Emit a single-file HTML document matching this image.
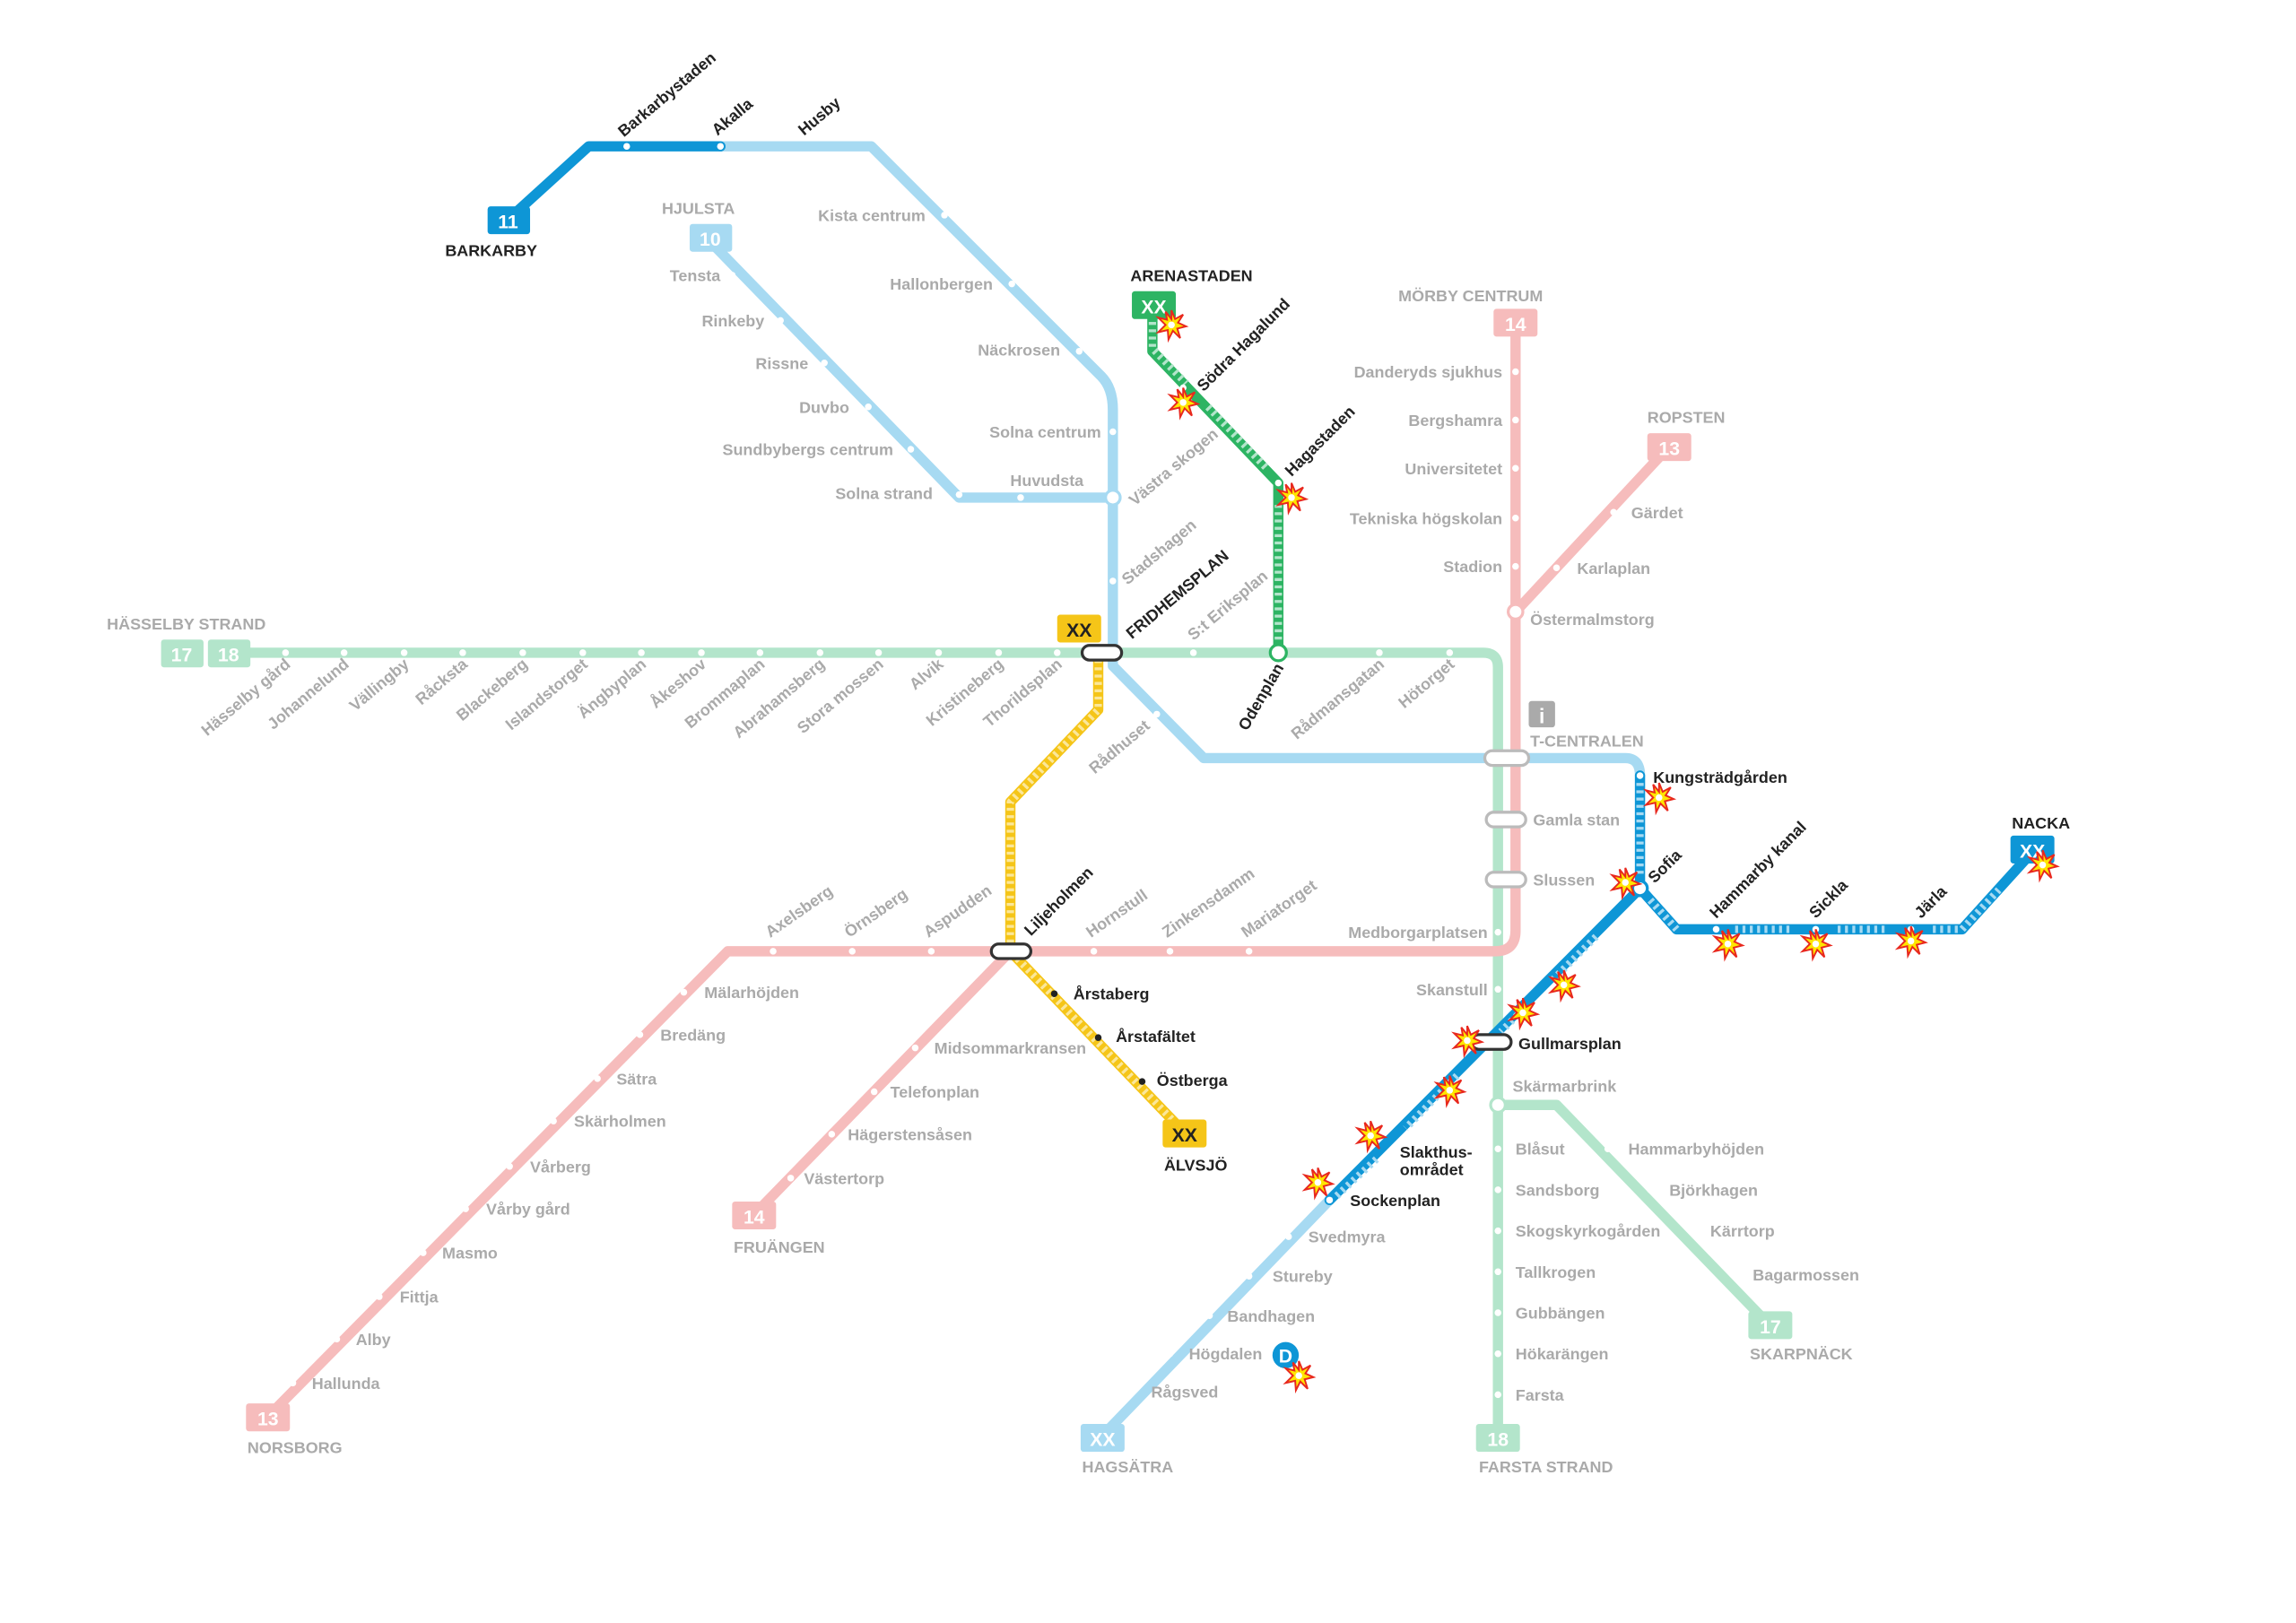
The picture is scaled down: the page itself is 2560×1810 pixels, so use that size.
<!DOCTYPE html>
<html><head><meta charset="utf-8"><style>
html,body{margin:0;padding:0;background:#fff}
svg{display:block}
text{font-family:"Liberation Sans Narrow","Liberation Sans",sans-serif;font-weight:bold;font-size:11px}
.g{fill:#aaa}.d{fill:#222}
.w{fill:#fff;font-size:13px;text-anchor:middle}
</style></head><body>
<svg width="2560" height="1810" viewBox="0 0 1568 1109" preserveAspectRatio="none" xmlns="http://www.w3.org/2000/svg">
<defs>
<g id="st"><polygon points="0,-10 2.5,-4 8,-7 4.5,-1.5 10,1 4,2.5 6,9 1,4 -2,10 -2.5,3.5 -9,5 -4,0 -9,-5 -3,-3.5 -4,-9 0,-4" fill="#ffe600" stroke="#e8281e" stroke-width="1.2"/><circle r="2.3" fill="#fff"/></g>
</defs>
<g fill="none" stroke-linejoin="round" stroke-linecap="round" stroke-width="7">
<path d="M160 446 H1013 Q1023 446 1023 456 V982" stroke="#b3e5cb"/>
<path d="M1023 755 H1063 L1208 905" stroke="#b3e5cb"/>
<path d="M1035 222 V636 Q1035 650 1021 650 H497 L183 968" stroke="#f6bcbc"/>
<path d="M690 650 L515 830" stroke="#f6bcbc"/>
<path d="M1035 418 L1140 305" stroke="#f6bcbc"/>
<path d="M492 100 H595 L752 257 Q760 265 760 280 V455 L822 518 H1110 Q1120 518 1120 530" stroke="#a7daf2"/>
<path d="M485 165 L655 340 H760" stroke="#a7daf2"/>
<path d="M908 820 L752 982" stroke="#a7daf2"/>
<path d="M347 150 L402 100 H492" stroke="#0e96d6"/>
<path d="M1120 530 V607 L908 820" stroke="#0e96d6"/>
<path d="M1120 607 L1145 635 H1340 L1388 582" stroke="#0e96d6"/>
<path d="M1120 535 V598" stroke="#a7daf2" stroke-width="5" stroke-dasharray="2 3" stroke-linecap="butt"/>
<path d="M1090 640 L1060 670 M1040 690 L1025 705 M995 735 L960 771 M940 792 L912 818 M1127 615 L1145 635 M1185 635 H1225 M1255 635 H1290 M1320 635 H1340 L1365 608" stroke="#a7daf2" stroke-width="5" stroke-dasharray="2 3" stroke-linecap="butt"/>
<path d="M787 212 V240 L873 330 V446" stroke="#2db463"/>
<path d="M787 215 V238 L810 262 M825 278 L865 320 M873 345 V440" stroke="#b3e5cb" stroke-width="5" stroke-dasharray="2 3" stroke-linecap="butt"/>
<path d="M750 446 V485 L690 548 V650 L808 773" stroke="#f5c518"/>
<path d="M750 446 V485 L690 548 V650 L808 773" stroke="#fbe79a" stroke-width="5" stroke-dasharray="2 3" stroke-linecap="butt"/>
</g>
<g fill="#fff">
<circle cx="195" cy="446" r="2.3"/><circle cx="235" cy="446" r="2.3"/><circle cx="276" cy="446" r="2.3"/><circle cx="316" cy="446" r="2.3"/><circle cx="357" cy="446" r="2.3"/><circle cx="398" cy="446" r="2.3"/><circle cx="438" cy="446" r="2.3"/><circle cx="479" cy="446" r="2.3"/><circle cx="519" cy="446" r="2.3"/><circle cx="560" cy="446" r="2.3"/><circle cx="600" cy="446" r="2.3"/><circle cx="641" cy="446" r="2.3"/><circle cx="682" cy="446" r="2.3"/><circle cx="722" cy="446" r="2.3"/><circle cx="815" cy="446" r="2.3"/><circle cx="942" cy="446" r="2.3"/><circle cx="990" cy="446" r="2.3"/>
<circle cx="428" cy="100" r="2.3"/><circle cx="492" cy="100" r="2.3"/><circle cx="645" cy="147" r="2.3"/><circle cx="691" cy="194" r="2.3"/><circle cx="737" cy="240" r="2.3"/><circle cx="760" cy="295" r="2.3"/><circle cx="760" cy="397" r="2.3"/><circle cx="790" cy="488" r="2.3"/>
<circle cx="500" cy="188" r="2.3"/><circle cx="533" cy="219" r="2.3"/><circle cx="563" cy="248" r="2.3"/><circle cx="593" cy="278" r="2.3"/><circle cx="622" cy="307" r="2.3"/><circle cx="655" cy="338" r="2.3"/><circle cx="697" cy="340" r="2.3"/>
<circle cx="1035" cy="254" r="2.3"/><circle cx="1035" cy="287" r="2.3"/><circle cx="1035" cy="320" r="2.3"/><circle cx="1035" cy="354" r="2.3"/><circle cx="1035" cy="387" r="2.3"/><circle cx="1063" cy="388" r="2.3"/><circle cx="1102" cy="350" r="2.3"/>
<circle cx="1023" cy="637" r="2.3"/><circle cx="1023" cy="676" r="2.3"/><circle cx="1023" cy="785" r="2.3"/><circle cx="1023" cy="813" r="2.3"/><circle cx="1023" cy="841" r="2.3"/><circle cx="1023" cy="869" r="2.3"/><circle cx="1023" cy="897" r="2.3"/><circle cx="1023" cy="925" r="2.3"/><circle cx="1023" cy="953" r="2.3"/>
<circle cx="1098" cy="785" r="2.3"/><circle cx="1127" cy="813" r="2.3"/><circle cx="1155" cy="841" r="2.3"/><circle cx="1184" cy="871" r="2.3"/>
<circle cx="528" cy="650" r="2.3"/><circle cx="582" cy="650" r="2.3"/><circle cx="636" cy="650" r="2.3"/><circle cx="747" cy="650" r="2.3"/><circle cx="799" cy="650" r="2.3"/><circle cx="853" cy="650" r="2.3"/>
<circle cx="467" cy="678" r="2.3"/><circle cx="437" cy="707" r="2.3"/><circle cx="408" cy="737" r="2.3"/><circle cx="378" cy="766" r="2.3"/><circle cx="348" cy="797" r="2.3"/><circle cx="318" cy="826" r="2.3"/><circle cx="289" cy="856" r="2.3"/><circle cx="259" cy="886" r="2.3"/><circle cx="230" cy="915" r="2.3"/><circle cx="200" cy="945" r="2.3"/>
<circle cx="625" cy="716" r="2.3"/><circle cx="597" cy="746" r="2.3"/><circle cx="568" cy="775" r="2.3"/><circle cx="540" cy="805" r="2.3"/>
<circle cx="880" cy="845" r="2.3"/><circle cx="853" cy="872" r="2.3"/><circle cx="826" cy="899" r="2.3"/><circle cx="799" cy="925" r="2.3"/><circle cx="773" cy="951" r="2.3"/><circle cx="908" cy="820" r="2.3"/>
<circle cx="1120" cy="530" r="2.3"/><circle cx="1172" cy="635" r="2.3"/><circle cx="1240" cy="635" r="2.3"/><circle cx="1305" cy="635" r="2.3"/><circle cx="808" cy="265" r="2.3"/><circle cx="873" cy="330" r="2.3"/>
</g>
<g fill="#222"><circle cx="720" cy="679" r="2.3"/><circle cx="750" cy="709" r="2.3"/><circle cx="780" cy="739" r="2.3"/></g>
<g fill="#fff" stroke-width="2">
<circle cx="760" cy="340" r="5" stroke="#a7daf2"/>
<circle cx="1035" cy="418" r="5" stroke="#f6bcbc"/>
<circle cx="1023" cy="755" r="5" stroke="#b3e5cb"/>
<circle cx="1120" cy="607" r="5" stroke="#0e96d6"/>
<circle cx="873" cy="446" r="5.5" stroke="#2db463"/>
<rect x="739" y="441" width="27" height="10" rx="5" stroke="#333"/>
<rect x="677" y="645" width="27" height="10" rx="5" stroke="#333"/>
<rect x="1005" y="707" width="27" height="10" rx="5" stroke="#333"/>
<rect x="1014" y="513" width="30" height="10" rx="5" stroke="#bbb"/>
<rect x="1015" y="555" width="27" height="10" rx="5" stroke="#bbb"/>
<rect x="1015" y="596" width="27" height="10" rx="5" stroke="#bbb"/>
</g>
<rect x="333" y="141" width="29" height="19" rx="2" fill="#0e96d6"/><text class="w" x="347" y="156">11</text>
<rect x="471" y="153" width="29" height="19" rx="2" fill="#a7daf2"/><text class="w" x="485" y="168">10</text>
<rect x="773" y="199" width="30" height="19" rx="2" fill="#2db463"/><text class="w" x="788" y="214">XX</text>
<rect x="1020" y="211" width="30" height="19" rx="2" fill="#f6bcbc"/><text class="w" x="1035" y="226">14</text>
<rect x="1125" y="296" width="30" height="19" rx="2" fill="#f6bcbc"/><text class="w" x="1140" y="311">13</text>
<rect x="110" y="437" width="29" height="19" rx="2" fill="#b3e5cb"/><text class="w" x="124" y="452">17</text>
<rect x="142" y="437" width="29" height="19" rx="2" fill="#b3e5cb"/><text class="w" x="156" y="452">18</text>
<rect x="722" y="420" width="30" height="19" rx="2" fill="#f5c518"/><text class="w" x="737" y="435" style="fill:#222">XX</text>
<rect x="1373" y="571" width="30" height="19" rx="2" fill="#0e96d6"/><text class="w" x="1388" y="586">XX</text>
<rect x="500" y="821" width="30" height="19" rx="2" fill="#f6bcbc"/><text class="w" x="515" y="836">14</text>
<rect x="794" y="765" width="30" height="19" rx="2" fill="#f5c518"/><text class="w" x="809" y="780" style="fill:#222">XX</text>
<rect x="168" y="959" width="30" height="19" rx="2" fill="#f6bcbc"/><text class="w" x="183" y="974">13</text>
<rect x="738" y="973" width="30" height="19" rx="2" fill="#a7daf2"/><text class="w" x="753" y="988">XX</text>
<rect x="1008" y="973" width="30" height="19" rx="2" fill="#b3e5cb"/><text class="w" x="1023" y="988">18</text>
<rect x="1194" y="896" width="30" height="19" rx="2" fill="#b3e5cb"/><text class="w" x="1209" y="911">17</text>
<rect x="1044" y="479" width="18" height="18" rx="2" fill="#aaa"/><text x="1053" y="494" style="fill:#fff;font-size:14px;text-anchor:middle">i</text>
<circle cx="878" cy="926" r="9" fill="#0e96d6"/><text x="878" y="931" style="fill:#fff;font-size:13px;text-anchor:middle">D</text>
<g>
<use href="#st" x="800" y="222"/><use href="#st" x="808" y="275"/><use href="#st" x="882" y="340"/>
<use href="#st" x="1133" y="545"/><use href="#st" x="1110" y="603"/><use href="#st" x="1180" y="645"/><use href="#st" x="1240" y="645"/><use href="#st" x="1305" y="643"/><use href="#st" x="1395" y="591"/>
<use href="#st" x="1068" y="673"/><use href="#st" x="1040" y="692"/><use href="#st" x="1002" y="711"/><use href="#st" x="990" y="745"/><use href="#st" x="936" y="776"/><use href="#st" x="900" y="808"/><use href="#st" x="887" y="940"/>
</g>
<text class="d" x="304" y="175">BARKARBY</text>
<text class="g" x="452" y="146">HJULSTA</text>
<text class="d" x="772" y="192">ARENASTADEN</text>
<text class="g" x="955" y="206">MÖRBY CENTRUM</text>
<text class="g" x="1125" y="289">ROPSTEN</text>
<text class="g" x="73" y="430">HÄSSELBY STRAND</text>
<text class="g" x="1045" y="510">T-CENTRALEN</text>
<text class="d" x="1374" y="566">NACKA</text>
<text class="g" x="501" y="856">FRUÄNGEN</text>
<text class="d" x="795" y="800">ÄLVSJÖ</text>
<text class="g" x="169" y="993">NORSBORG</text>
<text class="g" x="739" y="1006">HAGSÄTRA</text>
<text class="g" x="1010" y="1006">FARSTA STRAND</text>
<text class="g" x="1195" y="929">SKARPNÄCK</text>
<g class="g" text-anchor="end">
<text x="632" y="151">Kista centrum</text><text x="678" y="198">Hallonbergen</text><text x="724" y="243">Näckrosen</text><text x="752" y="299">Solna centrum</text><text x="740" y="332">Huvudsta</text>
<text x="492" y="192">Tensta</text><text x="522" y="223">Rinkeby</text><text x="552" y="252">Rissne</text><text x="580" y="282">Duvbo</text><text x="610" y="311">Sundbybergs centrum</text><text x="637" y="341">Solna strand</text>
<text x="1026" y="258">Danderyds sjukhus</text><text x="1026" y="291">Bergshamra</text><text x="1026" y="324">Universitetet</text><text x="1026" y="358">Tekniska högskolan</text><text x="1026" y="391">Stadion</text>
<text x="1016" y="641">Medborgarplatsen</text><text x="1016" y="680">Skanstull</text>
<text x="946" y="849">Svedmyra</text><text x="910" y="876">Stureby</text><text x="898" y="903">Bandhagen</text><text x="862" y="929">Högdalen</text><text x="832" y="955">Rågsved</text>
</g>
<g class="g">
<text x="1045" y="427">Östermalmstorg</text><text x="1077" y="392">Karlaplan</text><text x="1114" y="354">Gärdet</text>
<text x="1047" y="564">Gamla stan</text><text x="1047" y="605">Slussen</text><text x="1033" y="746">Skärmarbrink</text>
<text x="1035" y="789">Blåsut</text><text x="1035" y="817">Sandsborg</text><text x="1035" y="845">Skogskyrkogården</text><text x="1035" y="873">Tallkrogen</text><text x="1035" y="901">Gubbängen</text><text x="1035" y="929">Hökarängen</text><text x="1035" y="957">Farsta</text>
<text x="1112" y="789">Hammarbyhöjden</text><text x="1140" y="817">Björkhagen</text><text x="1168" y="845">Kärrtorp</text><text x="1197" y="875">Bagarmossen</text>
<text x="481" y="682">Mälarhöjden</text><text x="451" y="711">Bredäng</text><text x="421" y="741">Sätra</text><text x="392" y="770">Skärholmen</text><text x="362" y="801">Vårberg</text><text x="332" y="830">Vårby gård</text><text x="302" y="860">Masmo</text><text x="273" y="890">Fittja</text><text x="243" y="919">Alby</text><text x="213" y="949">Hallunda</text>
<text x="638" y="720">Midsommarkransen</text><text x="608" y="750">Telefonplan</text><text x="579" y="779">Hägerstensåsen</text><text x="549" y="809">Västertorp</text>
</g>
<g class="d">
<text x="733" y="683">Årstaberg</text><text x="762" y="712">Årstafältet</text><text x="790" y="742">Östberga</text>
<text x="1037" y="717">Gullmarsplan</text><text x="922" y="824">Sockenplan</text>
<text x="956" y="791">Slakthus-</text><text x="956" y="803">området</text>
<text x="1129" y="535">Kungsträdgården</text>
</g>
<g class="g" text-anchor="end">
<text transform="translate(199,455) rotate(-40)">Hässelby gård</text>
<text transform="translate(239,455) rotate(-40)">Johannelund</text>
<text transform="translate(280,455) rotate(-40)">Vällingby</text>
<text transform="translate(320,455) rotate(-40)">Råcksta</text>
<text transform="translate(361,455) rotate(-40)">Blackeberg</text>
<text transform="translate(402,455) rotate(-40)">Islandstorget</text>
<text transform="translate(442,455) rotate(-40)">Ängbyplan</text>
<text transform="translate(483,455) rotate(-40)">Åkeshov</text>
<text transform="translate(523,455) rotate(-40)">Brommaplan</text>
<text transform="translate(564,455) rotate(-40)">Abrahamsberg</text>
<text transform="translate(604,455) rotate(-40)">Stora mossen</text>
<text transform="translate(645,455) rotate(-40)">Alvik</text>
<text transform="translate(686,455) rotate(-40)">Kristineberg</text>
<text transform="translate(726,455) rotate(-40)">Thorildsplan</text>
<text transform="translate(946,455) rotate(-40)">Rådmansgatan</text>
<text transform="translate(994,455) rotate(-40)">Hötorget</text>
<text transform="translate(786,497) rotate(-40)">Rådhuset</text>
<text transform="translate(877,456) rotate(-60)" class="d">Odenplan</text>
</g>
<g class="g">
<text transform="translate(775,346) rotate(-40)">Västra skogen</text>
<text transform="translate(770,400) rotate(-40)">Stadshagen</text>
<text transform="translate(815,438) rotate(-40)">S:t Eriksplan</text>
<text transform="translate(526,641) rotate(-35)">Axelsberg</text>
<text transform="translate(580,641) rotate(-35)">Örnsberg</text>
<text transform="translate(634,641) rotate(-35)">Aspudden</text>
<text transform="translate(745,641) rotate(-35)">Hornstull</text>
<text transform="translate(797,641) rotate(-35)">Zinkensdamm</text>
<text transform="translate(851,641) rotate(-35)">Mariatorget</text>
</g>
<g class="d">
<text transform="translate(773,437) rotate(-40)">FRIDHEMSPLAN</text>
<text transform="translate(426,94) rotate(-40)">Barkarbystaden</text>
<text transform="translate(490,93) rotate(-40)">Akalla</text>
<text transform="translate(549,93) rotate(-40)">Husby</text>
<text transform="translate(822,268) rotate(-45)">Södra Hagalund</text>
<text transform="translate(882,326) rotate(-45)">Hagastaden</text>
<text transform="translate(704,640) rotate(-45)">Liljeholmen</text>
<text transform="translate(1130,604) rotate(-45)">Sofia</text>
<text transform="translate(1172,628) rotate(-45)">Hammarby kanal</text>
<text transform="translate(1240,628) rotate(-45)">Sickla</text>
<text transform="translate(1312,628) rotate(-45)">Järla</text>
</g>
</svg>
</body></html>
